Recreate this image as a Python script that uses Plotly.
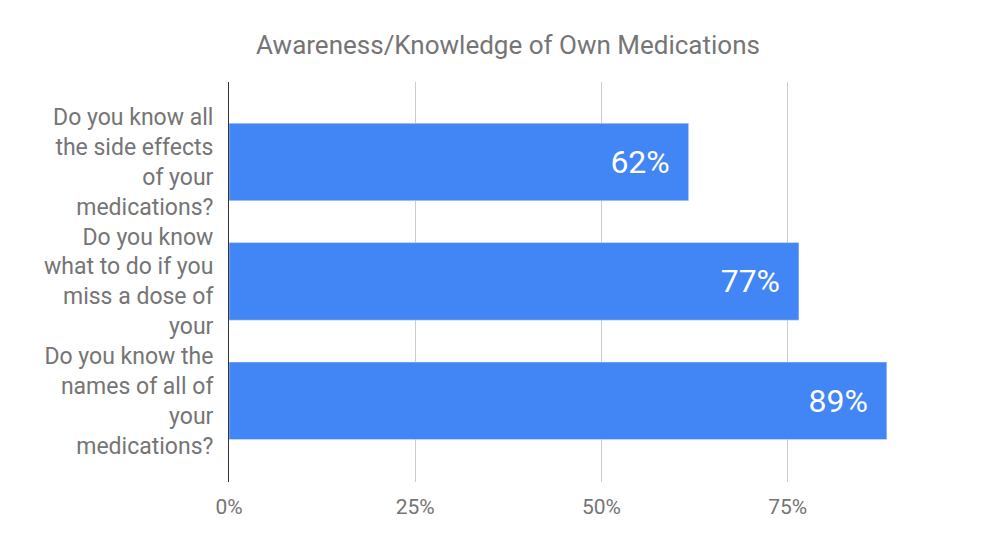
import plotly.graph_objects as go

categories = [
    "Do you know all<br>the side effects<br>of your<br>medications?",
    "Do you know<br>what to do if you<br>miss a dose of<br>your",
    "Do you know the<br>names of all of<br>your<br>medications?",
]
values = [61.7, 76.5, 88.3]
labels = ["62%  ", "77%  ", "89%  "]
tick_vals = [0, 25, 50, 75, 100]
tick_text = ["0%", "25%", "50%", "75%", ""]

fig = go.Figure(go.Bar(
    y=categories, x=values, orientation="h", width=0.65,
    marker_color="#4285f4", text=labels, textposition="inside",
    insidetextanchor="end", textfont=dict(color="white", size=32, family="Roboto"),
    hoverinfo="skip",
))
fig.update_layout(
    width=1000, height=550, plot_bgcolor="white", paper_bgcolor="white",
    font=dict(family="Roboto", color="#757575", size=20),
    title=dict(text="Awareness/Knowledge of Own Medications", x=0.5, y=0.95,
               xanchor="center", font=dict(size=26, color="#757575")),
    margin=dict(l=221, r=34, t=74, b=76),
    showlegend=False,
)
fig.update_xaxes(range=[0, 100], tickvals=tick_vals, ticktext=tick_text,
                 showgrid=True, gridcolor="#cccccc", zeroline=False, ticks="",
                 ticklabelstandoff=10, tickfont=dict(size=21))
fig.update_yaxes(range=[2.68, -0.67], showline=True, linecolor="#333333",
                 ticks="", ticklabelstandoff=10, tickfont=dict(size=23))
fig.write_html("out.html")
